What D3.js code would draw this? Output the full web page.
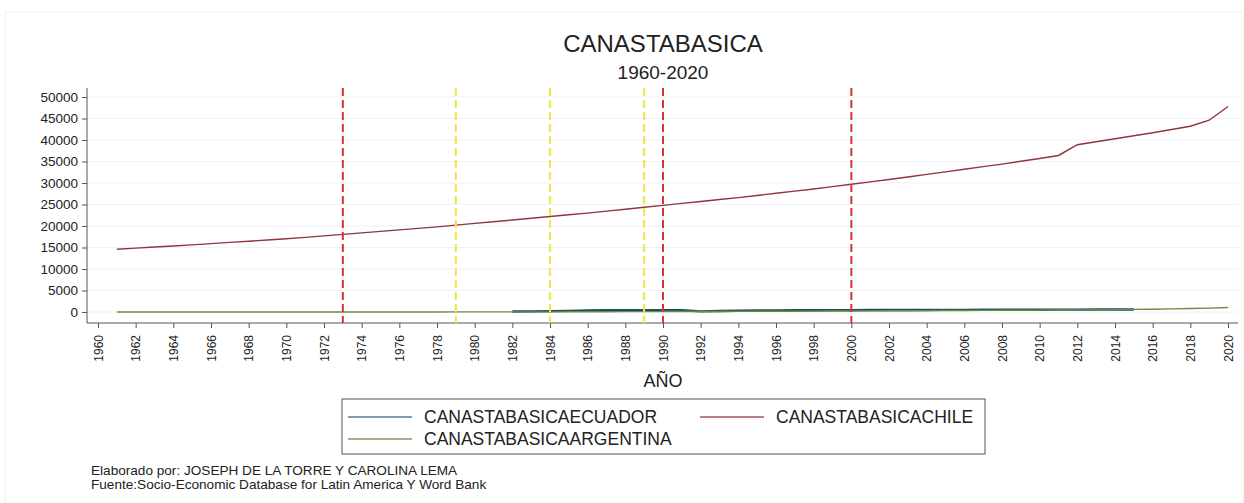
<!DOCTYPE html>
<html lang="es">
  <head>
    <meta charset="utf-8">
    <title>CANASTABASICA</title>
    <script src="https://d3js.org/d3.v7.js"></script>
    <style>
      body { margin: 0; background: #fff; }
      text { font-family: "Liberation Sans", Arial, sans-serif; fill: #222; }
    </style>
  </head>
  <body>
    <script>

  // size of the page
  var w = 1244;
  var h = 503;

  // years and series
  var chileYears = d3.range(1961, 2021);
  var chile = [14600, 14850, 15100, 15350, 15620, 15900, 16180, 16460, 16750, 17050,
    17350, 17700, 18050, 18400, 18750, 19100, 19450, 19800, 20200, 20600,
    21000, 21400, 21800, 22200, 22600, 23000, 23450, 23900, 24350, 24800,
    25250, 25700, 26150, 26600, 27100, 27600, 28100, 28600, 29150, 29700,
    30250, 30800, 31400, 32000, 32600, 33200, 33800, 34400, 35050, 35700,
    36400, 38900, 39600, 40300, 41000, 41700, 42450, 43200, 44600, 47800];

  var ecuadorYears = d3.range(1982, 2016);
  var ecuador = [100, 150, 200, 260, 350, 400, 420, 430, 430, 400,
    150, 220, 300, 350, 380, 400, 420, 430, 440, 450,
    460, 470, 480, 490, 500, 510, 520, 530, 540, 550,
    560, 570, 580, 590];

  var argentinaYears = d3.range(1961, 2021);
  var argentina = [5, 5, 5, 5, 5, 5, 5, 5, 5, 5,
    5, 5, 5, 8, 10, 10, 12, 15, 18, 20,
    25, 30, 35, 40, 50, 60, 70, 80, 90, 100,
    110, 120, 130, 145, 160, 175, 190, 205, 220, 240,
    260, 280, 300, 320, 340, 360, 380, 400, 420, 440,
    460, 490, 520, 560, 600, 650, 720, 800, 900, 1050];

  // reference lines
  var redYears = [1973, 1990, 2000];
  var yellowYears = [1979, 1984, 1989];

  var yTicks = d3.range(0, 50001, 5000);
  var xTicks = d3.range(1960, 2021, 2);

  var series = [
    { name: "CANASTABASICAECUADOR", years: ecuadorYears, values: ecuador, color: "#1f4e5f", key: "#4f7f9c", width: 2.4 },
    { name: "CANASTABASICACHILE", years: chileYears, values: chile, color: "#90353b", key: "#a5565b", width: 1.4 },
    { name: "CANASTABASICAARGENTINA", years: argentinaYears, values: argentina, color: "#6b8a45", key: "#7f946a", width: 1.4 }
  ];

  var x = d3.scaleLinear().domain([1960, 2020]).range([98, 1228]);
  var y = d3.scaleLinear().domain([0, 50000]).range([312, 97]);

  var plotTop = 88, plotBottom = 323, plotLeft = 87, plotRight = 1238;

  var svg = d3.select("body")
    .append("svg")
    .attr("width", w)
    .attr("height", h);

  // faint frame of the screenshot
  svg.append("rect")
    .attr("x", 5).attr("y", 12)
    .attr("width", w - 6).attr("height", h - 8)
    .attr("fill", "none")
    .attr("stroke", "#f0f0f0");

  // grid
  svg.append("g")
    .selectAll("line")
    .data(yTicks)
    .enter()
    .append("line")
    .attr("x1", plotLeft + 1).attr("x2", plotRight)
    .attr("y1", d => y(d)).attr("y2", d => y(d))
    .attr("stroke", "#eef2f4")
    .attr("stroke-width", 1.2);

  // y axis
  var yAxis = svg.append("g")
    .attr("transform", "translate(" + plotLeft + ",0)")
    .call(d3.axisLeft(y).tickValues(yTicks).tickSize(5).tickPadding(4).tickFormat(d3.format("d")));
  yAxis.select(".domain").attr("d", "M0," + plotTop + "V" + plotBottom).attr("stroke", "#555");
  yAxis.selectAll(".tick line").attr("stroke", "#555");
  yAxis.selectAll("text").style("font-size", "13.5px").attr("fill", "#222");

  // x axis
  var xAxis = svg.append("g")
    .attr("transform", "translate(0," + plotBottom + ")")
    .call(d3.axisBottom(x).tickValues(xTicks).tickSize(5).tickFormat(d3.format("d")));
  xAxis.select(".domain").attr("d", "M" + plotLeft + ",0H" + plotRight).attr("stroke", "#555");
  xAxis.selectAll(".tick line").attr("stroke", "#555");
  xAxis.selectAll("text")
    .style("font-size", "12px")
    .attr("fill", "#222")
    .attr("transform", "rotate(-90)")
    .attr("text-anchor", "end")
    .attr("x", -12)
    .attr("y", 0)
    .attr("dy", "0.35em");

  // series lines
  var line = d3.line()
    .x(d => x(d[0]))
    .y(d => y(d[1]));

  svg.append("g")
    .selectAll("path")
    .data(series)
    .enter()
    .append("path")
    .attr("d", s => line(s.years.map((yr, i) => [yr, s.values[i]])))
    .attr("fill", "none")
    .attr("stroke", s => s.color)
    .attr("stroke-width", s => s.width);

  // dashed reference lines
  var refs = redYears.map(d => ({ year: d, color: "#d8323a" }))
    .concat(yellowYears.map(d => ({ year: d, color: "#f2e83c" })));

  svg.append("g")
    .selectAll("line")
    .data(refs)
    .enter()
    .append("line")
    .attr("x1", d => x(d.year)).attr("x2", d => x(d.year))
    .attr("y1", plotTop).attr("y2", plotBottom)
    .attr("stroke", d => d.color)
    .attr("stroke-width", 2)
    .attr("stroke-dasharray", "8,4");

  // titles
  svg.append("text")
    .attr("x", 663).attr("y", 52)
    .attr("text-anchor", "middle")
    .style("font-size", "24px")
    .attr("fill", "#1e2a3a")
    .text("CANASTABASICA");

  svg.append("text")
    .attr("x", 663).attr("y", 79)
    .attr("text-anchor", "middle")
    .style("font-size", "19px")
    .text("1960-2020");

  svg.append("text")
    .attr("x", 663).attr("y", 387)
    .attr("text-anchor", "middle")
    .style("font-size", "18px")
    .text("AÑO");

  // legend
  svg.append("rect")
    .attr("x", 342).attr("y", 399)
    .attr("width", 643).attr("height", 55)
    .attr("fill", "#fff")
    .attr("stroke", "#555")
    .attr("stroke-width", 1);

  var legendPos = [
    { x: 348, y: 417 },
    { x: 700, y: 417 },
    { x: 348, y: 439 }
  ];

  var legend = svg.append("g")
    .selectAll("g")
    .data(series)
    .enter()
    .append("g")
    .attr("transform", (d, i) => "translate(" + legendPos[i].x + "," + legendPos[i].y + ")");

  legend.append("line")
    .attr("x1", 0).attr("x2", 64)
    .attr("y1", 0).attr("y2", 0)
    .attr("stroke", d => d.key)
    .attr("stroke-width", 1.4);

  legend.append("text")
    .attr("x", 76).attr("y", 0)
    .attr("dy", "0.36em")
    .style("font-size", "17.5px")
    .text(d => d.name);

  // notes
  svg.append("text")
    .attr("x", 91).attr("y", 475)
    .style("font-size", "13.6px")
    .attr("fill", "#333")
    .text("Elaborado por: JOSEPH DE LA TORRE Y CAROLINA LEMA");

  svg.append("text")
    .attr("x", 91).attr("y", 489)
    .style("font-size", "13.6px")
    .attr("fill", "#333")
    .text("Fuente:Socio-Economic Database for Latin America Y Word Bank");

    </script>
  </body>
</html>
